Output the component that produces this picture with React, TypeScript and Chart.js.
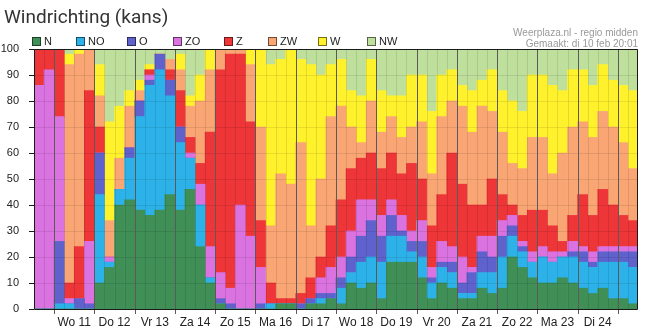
import React, { useEffect, useRef } from 'react';
import { Chart, registerables } from 'chart.js';

Chart.register(...registerables);

// ---- data ----
const dayLabels = ['Wo 11', 'Do 12', 'Vr 13', 'Za 14', 'Zo 15', 'Ma 16', 'Di 17', 'Wo 18', 'Do 19', 'Vr 20', 'Za 21', 'Zo 22', 'Ma 23', 'Di 24'];
const hours = ['00u', '06u', '12u', '18u'];
const categories: string[] = ['di 10 12u', 'di 10 18u'];
dayLabels.forEach((d) => hours.forEach((h) => categories.push(d + ' ' + h)));
categories.push('Wo 25 00u', 'Wo 25 06u');

const seriesNames = ['N', 'NO', 'O', 'ZO', 'Z', 'ZW', 'W', 'NW'];
const seriesColors = ['#3f8f57', '#2cb2e8', '#5f62cc', '#da72e0', '#ee3538', '#faa674', '#fff22c', '#bfdf9c'];

const N = [0, 0, 0, 0, 0, 0, 10, 16, 40, 42, 38, 36, 38, 44, 38, 46, 24, 10, 2, 0, 0, 0, 0, 0, 2, 2, 0, 2, 2, 4, 2, 10, 8, 10, 4, 18, 18, 18, 12, 4, 10, 8, 4, 4, 8, 6, 8, 20, 16, 12, 10, 10, 12, 10, 8, 6, 8, 4, 4, 2];
const NO = [0, 0, 2, 2, 0, 0, 34, 2, 6, 16, 36, 50, 54, 38, 26, 12, 16, 2, 0, 0, 0, 0, 0, 2, 0, 0, 0, 0, 2, 0, 6, 4, 10, 10, 14, 10, 10, 4, 8, 6, 6, 6, 2, 2, 6, 8, 12, 8, 6, 6, 10, 8, 8, 10, 10, 10, 10, 14, 14, 14];
const O = [0, 0, 24, 0, 4, 2, 16, 0, 0, 4, 6, 2, 6, 6, 6, 0, 0, 0, 2, 2, 0, 0, 2, 0, 0, 0, 2, 2, 2, 2, 4, 6, 10, 14, 10, 8, 2, 4, 6, 2, 2, 4, 4, 8, 8, 6, 8, 4, 2, 0, 0, 0, 0, 2, 4, 2, 4, 4, 4, 6];
const ZO = [86, 92, 48, 2, 0, 24, 0, 2, 0, 0, 0, 2, 0, 0, 0, 2, 8, 12, 10, 6, 40, 28, 14, 0, 0, 0, 0, 0, 6, 10, 8, 10, 14, 8, 8, 6, 6, 4, 8, 4, 8, 6, 10, 2, 6, 8, 6, 4, 2, 4, 4, 4, 2, 4, 2, 4, 2, 2, 2, 2];
const Z = [14, 8, 26, 6, 20, 58, 10, 0, 0, 0, 0, 2, 0, 4, 14, 6, 8, 44, 78, 90, 58, 44, 18, 8, 2, 2, 4, 8, 8, 16, 22, 24, 16, 18, 18, 18, 16, 26, 16, 16, 18, 36, 28, 24, 12, 22, 10, 4, 10, 16, 14, 10, 4, 10, 20, 14, 22, 16, 12, 10];
const ZW = [0, 0, 0, 84, 74, 16, 12, 14, 12, 16, 4, 0, 0, 4, 8, 12, 24, 24, 8, 2, 2, 22, 36, 22, 48, 44, 58, 20, 30, 42, 36, 16, 6, 20, 14, 14, 14, 14, 22, 20, 30, 20, 30, 28, 38, 26, 24, 16, 18, 28, 28, 20, 34, 34, 28, 30, 30, 30, 28, 20];
const W = [0, 0, 0, 4, 2, 0, 12, 38, 20, 6, 4, 2, 0, 0, 6, 4, 10, 8, 0, 0, 0, 6, 30, 62, 44, 52, 32, 62, 40, 20, 18, 14, 18, 16, 16, 8, 16, 20, 18, 24, 16, 12, 8, 16, 10, 16, 16, 24, 22, 24, 24, 34, 24, 22, 20, 20, 18, 18, 22, 30];
const NW = [0, 0, 0, 2, 0, 0, 6, 28, 22, 16, 12, 6, 2, 4, 2, 18, 10, 0, 0, 0, 0, 0, 0, 6, 4, 0, 4, 6, 10, 6, 4, 16, 18, 4, 16, 18, 18, 10, 10, 24, 10, 8, 14, 16, 12, 8, 16, 20, 24, 10, 10, 14, 16, 8, 8, 14, 6, 12, 14, 16];
const seriesValues = [N, NO, O, ZO, Z, ZW, W, NW];

const yTicks = [0, 10, 20, 30, 40, 50, 60, 70, 80, 90, 100];
const legendX = [32, 76, 127, 173, 224, 268, 318, 367];

const FIRST_DAY_SLOT = 2;
const SLOTS_PER_DAY = 4;

const overlayPlugin = {
  id: 'overlay',
  afterDatasetsDraw(chart: any) {
    const { ctx, chartArea: a, scales } = chart;
    const xs = scales.x;
    const ys = scales.y;
    const n = categories.length;
    const half = (xs.getPixelForValue(1) - xs.getPixelForValue(0)) / 2;
    ctx.save();
    ctx.lineWidth = 1;
    ctx.strokeStyle = 'rgba(0,0,0,0.09)';
    yTicks.forEach((v) => {
      if (v === 0 || v === 100) return;
      const py = Math.round(ys.getPixelForValue(v)) + 0.5;
      ctx.beginPath();
      ctx.moveTo(a.left, py);
      ctx.lineTo(a.right, py);
      ctx.stroke();
    });
    for (let i = 1; i < n; i++) {
      const px = Math.round(xs.getPixelForValue(i) - half) + 0.5;
      const isDay = (i - FIRST_DAY_SLOT) % SLOTS_PER_DAY === 0;
      if (isDay) continue;
      ctx.strokeStyle = 'rgba(0,0,0,0.1)';
      ctx.beginPath();
      ctx.moveTo(px, a.top);
      ctx.lineTo(px, a.bottom);
      ctx.stroke();
    }
    for (let i = FIRST_DAY_SLOT; i < n; i += SLOTS_PER_DAY) {
      const px = Math.round(xs.getPixelForValue(i) - half) + 0.5;
      ctx.strokeStyle = '#5a5a5a';
      ctx.beginPath();
      ctx.moveTo(px, a.top);
      ctx.lineTo(px, a.bottom + 5);
      ctx.stroke();
    }
    ctx.strokeStyle = '#1a1a1a';
    const top = Math.round(a.top) + 0.5;
    const bottom = Math.round(a.bottom) + 0.5;
    const left = Math.round(a.left) + 0.5;
    const right = Math.round(a.right) - 0.5;
    ctx.beginPath();
    ctx.moveTo(left, top);
    ctx.lineTo(right, top);
    ctx.lineTo(right, bottom);
    ctx.lineTo(left, bottom);
    ctx.closePath();
    ctx.stroke();
    yTicks.forEach((v) => {
      const py = Math.round(ys.getPixelForValue(v)) + 0.5;
      ctx.beginPath();
      ctx.moveTo(a.left - 5, py);
      ctx.lineTo(a.left, py);
      ctx.stroke();
    });
    ctx.restore();
  },
};

export default function App() {
  const canvasRef = useRef<HTMLCanvasElement | null>(null);

  useEffect(() => {
    if (!canvasRef.current) return;
    const chart = new Chart(canvasRef.current, {
      type: 'bar',
      data: {
        labels: categories,
        datasets: seriesNames.map((name, k) => ({
          label: name,
          data: seriesValues[k],
          backgroundColor: seriesColors[k],
          borderWidth: 0,
          barPercentage: 1,
          categoryPercentage: 1,
        })),
      },
      options: {
        animation: false,
        responsive: false,
        devicePixelRatio: 1,
        layout: { padding: { top: 49, right: 17, left: 0, bottom: 0 } },
        plugins: { legend: { display: false }, tooltip: { enabled: false }, title: { display: false } },
        scales: {
          x: {
            stacked: true,
            grid: { display: false, drawTicks: false },
            border: { display: false },
            afterFit: (s: any) => { s.height = 23; },
            ticks: {
              autoSkip: false,
              maxRotation: 0,
              minRotation: 0,
              padding: 6,
              color: '#222',
              font: { family: 'Liberation Sans, Arial, sans-serif', size: 12 },
              labelOffset: 5,
              callback: (_v: any, i: number) => {
                const k = i - FIRST_DAY_SLOT - 1;
                if (k >= 0 && k % SLOTS_PER_DAY === 0 && k / SLOTS_PER_DAY < dayLabels.length) return dayLabels[k / SLOTS_PER_DAY];
                return '';
              },
            },
          },
          y: {
            stacked: true,
            min: 0,
            max: 100,
            grid: { display: false },
            border: { display: false },
            afterFit: (s: any) => { s.width = 34; },
            afterBuildTicks: (s: any) => { s.ticks = yTicks.map((v) => ({ value: v })); },
            ticks: {
              padding: 7,
              color: '#222',
              font: { family: 'Liberation Sans, Arial, sans-serif', size: 11 },
            },
          },
        },
      },
      plugins: [overlayPlugin],
    } as any);
    return () => chart.destroy();
  }, []);

  return (
    <div style={{ position: 'fixed', left: 0, top: 0, width: 655, height: 332, background: '#fff', overflow: 'hidden' }}>
      <canvas ref={canvasRef} width={655} height={332} style={{ position: 'absolute', left: 0, top: 0, width: 655, height: 332 }} />
      <div style={{ position: 'absolute', left: 4, top: 5, fontFamily: 'Roboto, sans-serif', fontSize: 19, color: '#333', lineHeight: '24px', whiteSpace: 'nowrap' }}>
        Windrichting (kans)
      </div>
      <div style={{ position: 'absolute', right: 17, top: 27, fontFamily: 'Liberation Sans, Arial, sans-serif', fontSize: 10, color: '#999', lineHeight: '11px', textAlign: 'right', whiteSpace: 'nowrap' }}>
        <div>Weerplaza.nl - regio midden</div>
        <div>Gemaakt: di 10 feb 20:01</div>
      </div>
      {seriesNames.map((name, k) => (
        <div key={name} style={{ position: 'absolute', left: legendX[k], top: 36, height: 10, display: 'flex', alignItems: 'center', fontFamily: 'Liberation Sans, Arial, sans-serif', fontSize: 11, color: '#222', whiteSpace: 'nowrap' }}>
          <span style={{ display: 'inline-block', width: 7, height: 7, background: seriesColors[k], border: '1px solid rgba(0,0,0,0.55)', marginRight: 3 }} />
          <span>{name}</span>
        </div>
      ))}
    </div>
  );
}
